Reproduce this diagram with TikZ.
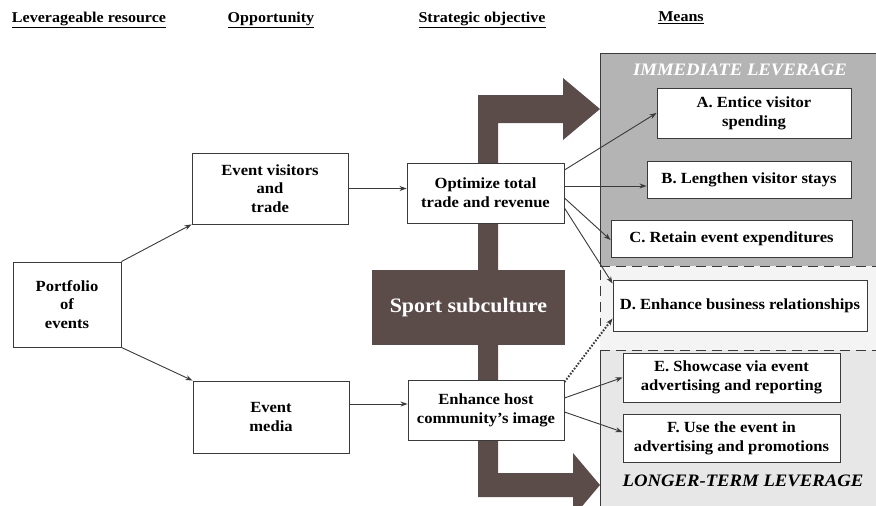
\documentclass[tikz,border=0pt]{standalone}
\usepackage{fontspec}
\setmainfont{Liberation Serif}[FakeStretch=1.07]
\usetikzlibrary{calc,arrows.meta}
\definecolor{bigarrow}{HTML}{5B4C4A}
\definecolor{immfill}{HTML}{B4B4B4}
\definecolor{midfill}{HTML}{F4F4F4}
\definecolor{lowfill}{HTML}{E7E7E7}
\definecolor{linecol}{HTML}{3A3A3A}
\tikzset{
  box/.style={draw=linecol, line width=0.9pt, fill=white, align=center,
    font=\bfseries\fontsize{15.5}{18.8}\selectfont, inner sep=0pt},
  hdr/.style={font=\bfseries\fontsize{15}{17}\selectfont, inner sep=0pt},
  arr/.style={-{Stealth[length=7pt,width=5pt]}, draw=linecol, line width=0.9pt},
  panelline/.style={draw=linecol, line width=1pt},
  dashline/.style={draw=linecol, line width=1pt, dash pattern=on 10pt off 6pt},
}
\begin{document}
\begin{tikzpicture}[x=1pt,y=-1pt]
\useasboundingbox (0,0) rectangle (876,506);
\clip (0,0) rectangle (876,506);
\fill[white] (0,0) rectangle (876,506);

% headers
\node[hdr] (h1) at (89,20) {\underline{Leverageable resource}};
\node[hdr] (h2) at (271,20) {\underline{Opportunity}};
\node[hdr] (h3) at (482,20) {\underline{Strategic objective}};
\node[hdr] (h4) at (681,18) {\underline{Means}};

% panels
\fill[immfill] (600,53) rectangle (880,266);
\fill[midfill] (600,266) rectangle (880,350);
\fill[lowfill] (600,350) rectangle (880,510);
\draw[panelline] (880,53) -- (600,53) -- (600,266);
\draw[dashline] (600,266) -- (880,266);
\draw[dashline] (600,270) -- (600,326);
\draw[dashline] (600,350) -- (880,350);
\draw[panelline] (600,350) -- (600,510);

\node[font=\bfseries\itshape\fontsize{17.5}{20}\selectfont, text=white] (imm) at (740,70) {IMMEDIATE LEVERAGE};
\node[font=\bfseries\itshape\fontsize{17.5}{20}\selectfont, text=black] (lng) at (743,481) {LONGER-TERM LEVERAGE};

% big backbone arrow
\fill[bigarrow] (478,95) -- (563,95) -- (563,78) -- (600,109) -- (563,140) -- (563,123)
  -- (498,123) -- (498,473) -- (573,473) -- (573,453) -- (600,485) -- (573,517)
  -- (573,497) -- (478,497) -- cycle;

\node[fill=bigarrow, minimum width=193pt, minimum height=75pt, inner sep=0pt,
  text=white, font=\bfseries\fontsize{20.5}{24}\selectfont] (sport) at (468.5,307.5) {Sport subculture};

% boxes
\node[box, minimum width=108pt, minimum height=85pt] (P) at (67,304.5) {Portfolio\\of\\events};
\node[box, minimum width=156pt, minimum height=71pt] (EV) at (270,188.5) {Event visitors\\and\\trade};
\node[box, minimum width=156pt, minimum height=72pt] (EM) at (271,417) {Event\\media};
\node[box, minimum width=157pt, minimum height=60pt] (OPT) at (485.5,193) {Optimize total\\trade and revenue};
\node[box, minimum width=156pt, minimum height=60pt] (ENH) at (486,410) {Enhance host\\community’s image};

\node[box, minimum width=194pt, minimum height=50pt] (A) at (754,113) {A. Entice visitor\\spending};
\node[box, minimum width=204pt, minimum height=37pt] (B) at (749,179.5) {B. Lengthen visitor stays};
\node[box, minimum width=241pt, minimum height=37pt] (C) at (731.5,238.5) {C. Retain event expenditures};
\node[box, minimum width=254pt, minimum height=51pt] (D) at (740,305.5) {D. Enhance business relationships};
\node[box, minimum width=217pt, minimum height=49pt] (E) at (731.5,377.5) {E. Showcase via event\\advertising and reporting};
\node[box, minimum width=217pt, minimum height=48pt] (F) at (731.5,438) {F. Use the event in\\advertising and promotions};

% connectors
\draw[arr] (P.north east) -- (EV.south west);
\draw[arr] (P.south east) -- (EM.north west);
\draw[arr] (EV.east) -- (OPT.west |- EV.east);
\draw[arr] ($(EM.east)+(0,-13)$) coordinate (emo) -- (ENH.west |- emo);

\draw[arr] ($(OPT.east)+(0,-23)$) -- (A.west);
\draw[arr] ($(OPT.east)+(0,-7)$) coordinate (ob) -- (B.west |- ob);
\draw[arr] ($(OPT.east)+(0,5)$) -- ($(C.west)+(0,1.5)$);
\draw[arr] ($(OPT.east)+(0,15)$) -- ($(D.west)+(0,-22)$);

\draw[arr, line width=2pt, dash pattern=on 1.6pt off 1.6pt] ($(ENH.east)+(0,-28)$) -- ($(D.west)+(0,13)$);
\draw[arr] ($(ENH.east)+(0,-12)$) -- (E.west);
\draw[arr] ($(ENH.east)+(0,2)$) -- ($(F.west)+(0,-6)$);
\end{tikzpicture}
\end{document}
